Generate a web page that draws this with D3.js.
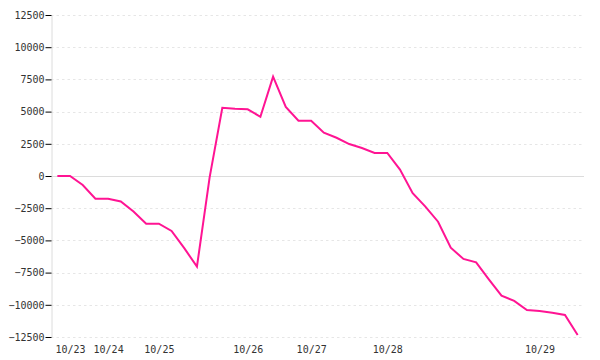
<!DOCTYPE html>
<html>
<head>
<meta charset="utf-8">
<script src="https://cdn.jsdelivr.net/npm/d3@7"></script>
<style>
  html, body { margin: 0; padding: 0; background: #fff; }
  svg { display: block; }
  text { font-family: "DejaVu Sans Mono", monospace; font-size: 10px; fill: #333; }
</style>
</head>
<body>
<svg id="chart" width="600" height="360"></svg>
<script>
// Date of each sampled point (one entry per point)
const dates = [
  "10/22",
  "10/23", "10/23", "10/23",
  "10/24", "10/24", "10/24", "10/24",
  "10/25", "10/25", "10/25", "10/25", "10/25", "10/25", "10/25",
  "10/26", "10/26", "10/26", "10/26", "10/26",
  "10/27", "10/27", "10/27", "10/27", "10/27", "10/27",
  "10/28", "10/28", "10/28", "10/28", "10/28", "10/28", "10/28", "10/28", "10/28", "10/28", "10/28", "10/28",
  "10/29", "10/29", "10/29", "10/29"
];
// Series values
const values = [
  0,
  0, -700, -1760,
  -1760, -1980, -2750, -3700,
  -3700, -4270, -5600, -7040, -100, 5300, 5220,
  5180, 4600, 7710, 5360, 4290,
  4290, 3360, 2970, 2480, 2170, 1790,
  1790, 500, -1340, -2380, -3550, -5570, -6440, -6700, -8020, -9290, -9700, -10400,
  -10480, -10610, -10790, -12340
];
// Y tick labels
const yTicks = [12500, 10000, 7500, 5000, 2500, 0, -2500, -5000, -7500, -10000, -12500];

const svg = d3.select("#chart");
const mLeft = 51, mRight = 584, mTop = 15, mBottom = 337;

const idx = d3.range(values.length);
const x = d3.scalePoint().domain(idx).range([mLeft, mRight]).padding(0.5);
const y = d3.scaleLinear().domain([-12500, 12500]).range([mBottom, mTop]);

// gridlines
svg.append("g").selectAll("line")
  .data(yTicks)
  .join("line")
  .attr("x1", mLeft).attr("x2", mRight)
  .attr("y1", d => Math.round(y(d)) + 0.5).attr("y2", d => Math.round(y(d)) + 0.5)
  .attr("stroke", d => d === 0 ? "#dcdcdc" : "#e6e6e6")
  .attr("stroke-width", 1)
  .attr("stroke-dasharray", d => d === 0 ? null : "2.5,3");

// y axis
const yAxis = svg.append("g")
  .attr("transform", `translate(${mLeft + 0.5},0)`)
  .call(d3.axisLeft(y).tickValues(yTicks).tickSize(6).tickSizeOuter(0).tickPadding(1).tickFormat(d3.format("d")));
yAxis.select(".domain").attr("stroke", "#dcdcdc");
yAxis.selectAll(".tick line").attr("stroke", "#000");
yAxis.selectAll(".tick text").attr("fill", "#333").style("font-family", '"DejaVu Sans Mono", monospace').style("font-size", "10px");

// x axis: label at first point of each date (except the leading one)
const xTickIdx = idx.filter(i => i > 0 && dates[i] !== dates[i - 1]);
const xAxis = svg.append("g")
  .attr("transform", `translate(0,${mBottom})`)
  .call(d3.axisBottom(x).tickValues(xTickIdx).tickSize(0).tickPadding(9).tickFormat(i => dates[i]));
xAxis.select(".domain").remove();
xAxis.selectAll(".tick text").attr("fill", "#333").style("font-family", '"DejaVu Sans Mono", monospace').style("font-size", "10px");

// line
const line = d3.line().x((d, i) => x(i)).y(d => y(d));
svg.append("path")
  .datum(values)
  .attr("fill", "none")
  .attr("stroke", "#ff1493")
  .attr("stroke-width", 2)
  .attr("stroke-linejoin", "miter")
  .attr("d", line);
</script>
</body>
</html>
